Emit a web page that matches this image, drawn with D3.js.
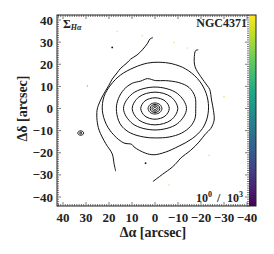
<!DOCTYPE html>
<html>
<head>
<meta charset="utf-8">
<script src="https://cdn.jsdelivr.net/npm/d3@7"></script>
<style>
  body { margin: 0; background: #fff; }
  text { font-family: "Liberation Serif", serif; fill: #222; }
</style>
</head>
<body>
<div id="chart"></div>
<script>
// contour lines, in arcsec [dRA, dDec]
const ring1 = [[0.6,0],[0.42,0.42],[0,0.6],[-0.42,0.42],[-0.6,0],[-0.42,-0.42],[0,-0.6],[0.42,-0.42]];
const ring2 = [[1.3,0],[0.92,0.85],[0,1.2],[-0.92,0.85],[-1.3,0],[-0.92,-0.85],[0,-1.2],[0.92,-0.85]];
const ring3 = [[2.1,0],[1.5,1.3],[0,1.8],[-1.5,1.3],[-2.1,0],[-1.5,-1.3],[0,-1.8],[1.5,-1.3]];
const ring4 = [[3.0,0],[2.1,1.8],[0,2.5],[-2.1,1.8],[-3.0,0],[-2.1,-1.8],[0,-2.5],[2.1,-1.8]];
const ring5 = [[6.2,0],[4.4,3.4],[0,4.85],[-4.4,3.4],[-6.2,0],[-4.4,-3.4],[0,-4.85],[4.4,-3.4]];
const ring6 = [[9.9,0],[7.0,5.2],[0,7.4],[-7.0,5.2],[-9.9,0],[-7.0,-5.2],[0,-7.4],[7.0,-5.2]];
const ring7 = [[13.7,0],[9.7,6.8],[0,9.7],[-9.7,6.8],[-13.7,0],[-9.7,-6.9],[0,-9.7],[9.7,-6.9]];
const ring8 = [[-17.7,0],[-17.4,5.3],[-14.8,9.5],[-10.4,11.7],[-4.6,12.6],[-0.3,12.6],[3.3,13.5],[6.2,12.4],
  [9.9,11.4],[13.5,8.6],[15.9,4.5],[16.8,0],[15.9,-5.3],[14.2,-8.3],[10.6,-11.1],[4.8,-12.9],[-0.3,-13.3],
  [-6.1,-12.9],[-11.6,-11.1],[-15.5,-8.0],[-17.4,-4.5]];
const ring9 = [[-1.7,20.9],[-7.5,20.2],[-13.3,17.9],[-18.4,13.6],[-21.7,8.3],[-23.2,2.3],[-22.8,-3.8],
  [-20.6,-9.1],[-16.2,-13.6],[-10.4,-17.0],[-4.6,-19.7],[0.4,-20.9],[4.1,-20.2],[9.1,-17.4],[10.1,-16.2],
  [13.5,-15.6],[17.8,-12.1],[21.2,-7.1],[22.9,-0.8],[22.2,5.3],[19.3,10.6],[14.9,15.2],[9.1,18.5],[3.3,20.5]];
const blobOuter = [[33.6,-11.1],[33.2,-10.4],[32.3,-10.1],[31.4,-10.4],[31.0,-11.1],[31.4,-11.8],[32.3,-12.1],[33.2,-11.8]];
const blobInner = [[32.9,-11.1],[32.3,-10.7],[31.7,-11.1],[32.3,-11.5]];
const closedContours = [ring1, ring2, ring3, ring4, ring5, ring6, ring7, ring8, ring9, blobOuter, blobInner];

const leftArc = [[0.9,32.0],[2.2,31.4],[3.2,29.5],[5.5,26.5],[7.8,24.2],[10.6,22.3],[12.2,20.6],[14.9,18.2],
  [16.5,16.1],[18.6,13.3],[20.0,10.6],[21.7,7.6],[23.0,5.2],[24.6,1.5],[25.2,-0.8],[25.2,-5.3],[24.3,-9.8],
  [21.4,-15.9],[18.6,-20.5],[17.8,-25.0],[17.1,-28.3]];
const rightArc = [[-18.8,26.5],[-17.7,26.2],[-17.1,23.5],[-17.4,18.9],[-19.9,14.4],[-22.8,10.2],[-23.8,8.6],
  [-24.6,3.8],[-25.4,-0.8],[-25.7,-5.3],[-24.2,-9.1],[-22.0,-11.4],[-19.1,-15.2],[-15.5,-18.9],[-11.2,-22.4],
  [-9.7,-24.2],[-7.5,-26.5],[-3.2,-29.8],[0.9,-33.0]];
const openContours = [leftArc, rightArc];

const darkDots = [[18.6,27.6],[4.1,-24.7],[29.4,10.2]];
const specks = [[16.4,34.8],[5.5,32.9],[-8.3,29.8],[-14.1,27.3],[-6.1,-34.5],[-30,5.3],[-23.5,-21.2]];

const tickValues = [40, 30, 20, 10, 0, -10, -20, -30, -40];
const xLabel = "Δα [arcsec]";
const yLabel = "Δδ [arcsec]";
const galaxy = "NGC4371";
// colour range label pieces: text, x, baseline shift, size
const rangeParts = [["10", 196, 0, 12], ["0", 208, -5, 8], ["/", 217, 0, 12], ["10", 227, 0, 12], ["3", 239, -5, 8]];

const W = 274, H = 254;
const box = { left: 57, right: 249, top: 15, bottom: 206, cbar: 256 };

const svg = d3.select("#chart").append("svg")
  .attr("width", W).attr("height", H);

const x = d3.scaleLinear().domain([40, -40]).range([63, 247]);
const y = d3.scaleLinear().domain([40, -40]).range([20, 197]);

// colourbar strip on the right edge
const grad = svg.append("defs").append("linearGradient")
  .attr("id", "vir").attr("x1", 0).attr("x2", 0).attr("y1", 1).attr("y2", 0);
d3.range(0, 1.0001, 0.1).forEach(t => {
  grad.append("stop").attr("offset", t).attr("stop-color", d3.interpolateViridis(t));
});
svg.append("rect")
  .attr("x", box.right).attr("y", box.top)
  .attr("width", box.cbar - box.right).attr("height", box.bottom - box.top)
  .attr("fill", "url(#vir)");

const plot = svg.append("g");

plot.selectAll(".speck")
  .data(specks)
  .enter().append("rect")
  .attr("x", d => x(d[0]) - 0.75).attr("y", d => y(d[1]) - 0.75)
  .attr("width", 1.5).attr("height", 1.5)
  .attr("fill", "#e6e79a");

const line = d3.line().x(d => x(d[0])).y(d => y(d[1]));

plot.selectAll(".closed")
  .data(closedContours)
  .enter().append("path")
  .attr("d", line.curve(d3.curveCatmullRomClosed.alpha(0.5)))
  .attr("fill", "none")
  .attr("stroke", "#111")
  .attr("stroke-width", 1);

plot.selectAll(".open")
  .data(openContours)
  .enter().append("path")
  .attr("d", d3.line().x(d => x(d[0])).y(d => y(d[1])).curve(d3.curveCatmullRom.alpha(0.5)))
  .attr("fill", "none")
  .attr("stroke", "#111")
  .attr("stroke-width", 1);

plot.selectAll(".dot")
  .data(darkDots)
  .enter().append("circle")
  .attr("cx", d => x(d[0])).attr("cy", d => y(d[1]))
  .attr("r", (d, i) => i === 2 ? 0.6 : 0.9)
  .attr("fill", (d, i) => i === 2 ? "#888" : "#111");

// frame with minor ticks on all four sides
const minorX = d3.range(-42, 43, 1);
const minorY = d3.range(-44, 43, 1);
const tk = svg.append("g").attr("stroke", "#222").attr("stroke-width", 0.6);
minorX.forEach(v => {
  const len = v % 10 === 0 ? 4 : 2;
  const px = x(v);
  if (px < box.left || px > box.right) return;
  tk.append("line").attr("x1", px).attr("x2", px).attr("y1", box.bottom).attr("y2", box.bottom - len);
  tk.append("line").attr("x1", px).attr("x2", px).attr("y1", box.top).attr("y2", box.top + len);
});
minorY.forEach(v => {
  const len = v % 10 === 0 ? 4 : 2;
  const py = y(v);
  if (py < box.top || py > box.bottom) return;
  tk.append("line").attr("x1", box.left).attr("x2", box.left + len).attr("y1", py).attr("y2", py);
  tk.append("line").attr("x1", box.right).attr("x2", box.right - len).attr("y1", py).attr("y2", py);
});

svg.append("rect")
  .attr("x", box.left).attr("y", box.top)
  .attr("width", box.cbar - box.left).attr("height", box.bottom - box.top)
  .attr("fill", "none").attr("stroke", "#222").attr("stroke-width", 1);

const fmt = v => v < 0 ? "\u2212" + Math.abs(v) : String(v);

svg.append("g").selectAll("text")
  .data(tickValues)
  .enter().append("text")
  .attr("x", d => x(d)).attr("y", 222)
  .attr("text-anchor", "middle")
  .style("font-size", "13px").style("font-weight", "bold")
  .text(fmt);

svg.append("g").selectAll("text")
  .data(tickValues)
  .enter().append("text")
  .attr("x", 53).attr("y", d => y(d) + 4.5)
  .attr("text-anchor", "end")
  .style("font-size", "13px").style("font-weight", "bold")
  .text(fmt);

svg.append("text")
  .attr("x", 153).attr("y", 237)
  .attr("text-anchor", "middle")
  .style("font-size", "14px").style("font-weight", "bold")
  .text(xLabel);

svg.append("text")
  .attr("transform", `translate(27,${y(0)}) rotate(-90)`)
  .attr("text-anchor", "middle")
  .style("font-size", "14px").style("font-weight", "bold")
  .text(yLabel);

const sig = svg.append("text").attr("x", 63).attr("y", 28)
  .attr("fill", "#222")
  .style("font-size", "12px").style("font-weight", "bold");
sig.append("tspan").text("Σ");
sig.append("tspan").attr("dy", 2).style("font-size", "8px").style("font-style", "italic")
  .text("Hα");

svg.append("text")
  .attr("x", 247).attr("y", 27)
  .attr("text-anchor", "end")
  .style("font-size", "12px").style("font-weight", "bold")
  .text(galaxy);

svg.append("g").selectAll("text")
  .data(rangeParts)
  .enter().append("text")
  .attr("x", d => d[1]).attr("y", d => 202 + d[2])
  .attr("fill", "#222")
  .style("font-size", d => d[3] + "px").style("font-weight", "bold")
  .text(d => d[0]);
</script>
</body>
</html>
